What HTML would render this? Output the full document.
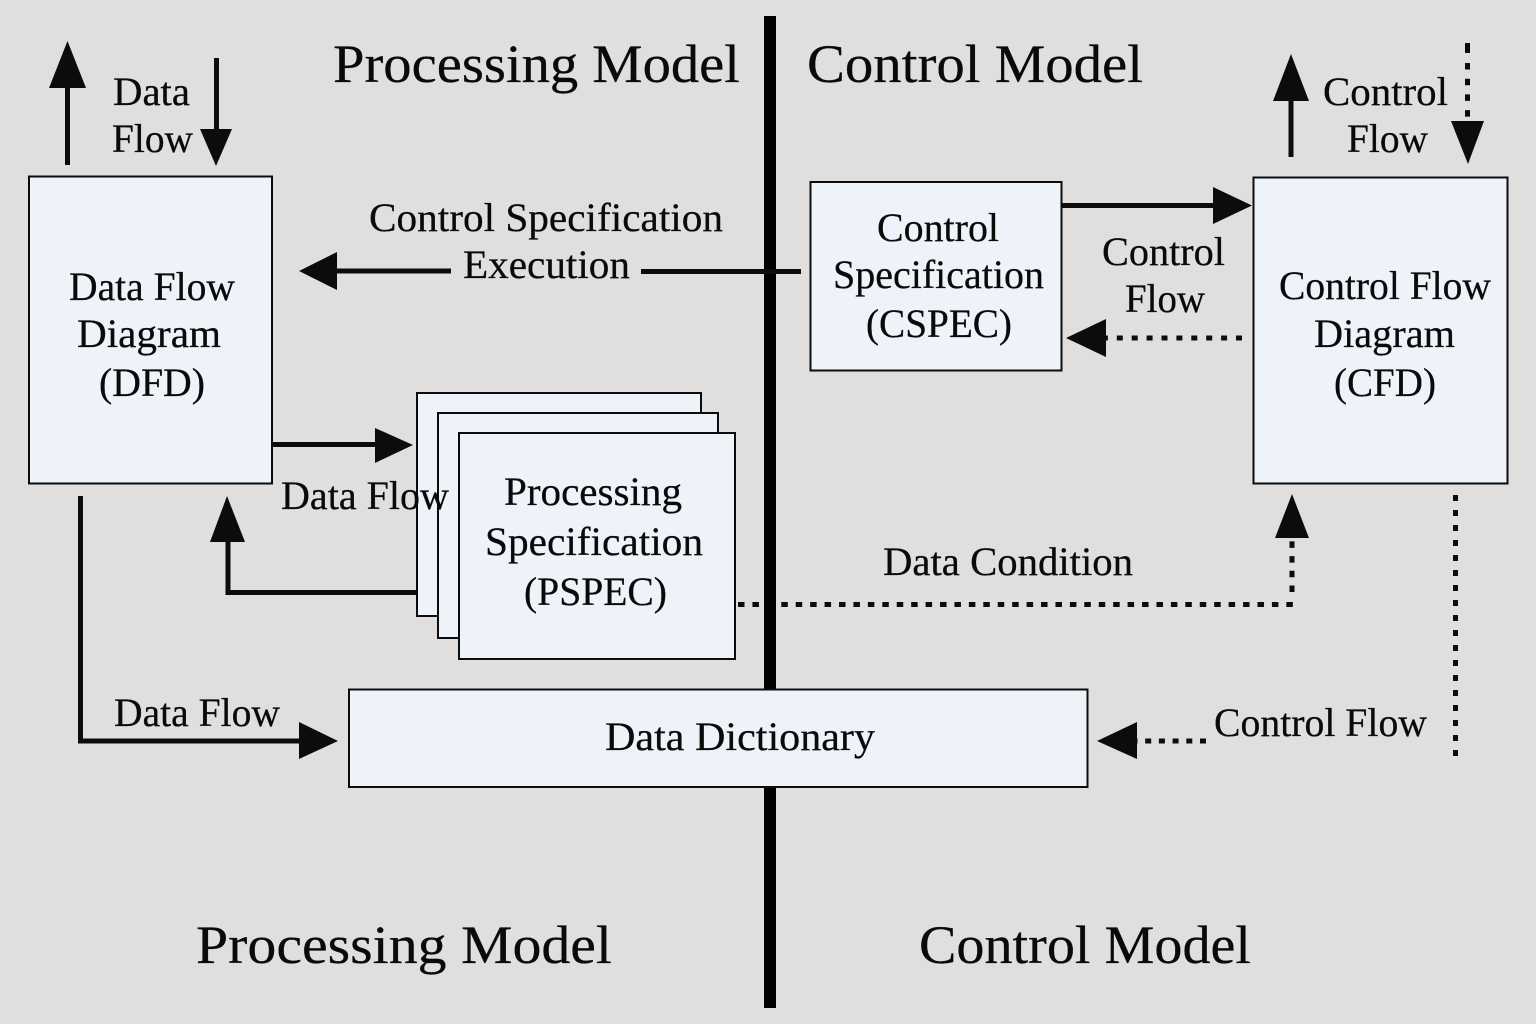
<!DOCTYPE html>
<html><head><meta charset="utf-8"><style>
html,body{margin:0;padding:0;background:#e0dfdd}
svg{display:block}
text{font-family:"Liberation Serif",serif;fill:#0a0a0a;font-size:40px;stroke:#0a0a0a;stroke-width:.25px}
.h{font-size:54px}
.b{fill:#eef3f9;stroke:#0c0c0c;stroke-width:2}
.l{fill:none;stroke:#0c0c0c;stroke-width:5}
.d{fill:none;stroke:#0c0c0c;stroke-width:5}
.a{fill:#0c0c0c}
</style></head><body>
<svg width="1536" height="1024" viewBox="0 0 1536 1024" xmlns="http://www.w3.org/2000/svg">
<rect width="1536" height="1024" fill="#e0dfdd"/>

<path class="d" stroke-dasharray="6.5 7.93" d="M738 604.500H1295"/>
<rect x="764" y="16" width="12" height="992" fill="#000"/>
<path class="l" d="M641 271.500H801"/>

<rect class="b" x="29" y="176.500" width="243" height="307"/>
<rect class="b" x="1253.500" y="177.500" width="254" height="306"/>
<rect class="b" x="810.500" y="182" width="251" height="188.500"/>
<rect class="b" x="417" y="393" width="284" height="223"/>
<rect class="b" x="438" y="413" width="280" height="225"/>
<rect class="b" x="459" y="433" width="276" height="226"/>
<rect class="b" x="349" y="689.500" width="738.500" height="97.500"/>

<path class="l" d="M67.500 165V85"/><path class="a" d="M67.500 41L86 88H49z"/>
<path class="l" d="M216.500 58V132"/><path class="a" d="M216 166L232 129H200z"/>
<path class="l" d="M1291 157V98"/><path class="a" d="M1291 54L1309 101H1273z"/>
<path class="d" d="M1467.500 43V53"/>
<path class="d" stroke-dasharray="6.500 9.200" d="M1467.500 63V117"/><path class="a" d="M1468 164L1484 121H1451z"/>
<path class="l" d="M1062 205.500H1215"/><path class="a" d="M1252 205.500L1213 187V224z"/>
<path class="d" stroke-width="5.500" stroke-dasharray="6 8.900" d="M1242 338H1104"/><path class="a" d="M1066 338L1106 319V357z"/>
<path class="l" d="M451 271H335"/><path class="a" d="M299 271L337 252V290z"/>
<path class="l" d="M272 444.500H378"/><path class="a" d="M413 445L375 428V463z"/>
<path class="l" d="M417 592.500H228V530"/><path class="a" d="M227 496L245 542H210z"/>
<path class="l" d="M80.500 496V741H303"/><path class="a" d="M338 741L299 722V759z"/>
<path class="d" stroke-dasharray="6.500 8.200" d="M1292 592V535"/><path class="a" d="M1292 494L1309 538H1275z"/>
<path class="d" stroke-dasharray="6 7.700" d="M1206 741H1130"/><path class="a" d="M1097 741L1137 722V759z"/>
<path class="d" stroke-dasharray="6 9" d="M1455.500 495V756"/>

<text class="h" x="333" y="82" textLength="407" lengthAdjust="spacingAndGlyphs">Processing Model</text>
<text class="h" x="807" y="82" textLength="336" lengthAdjust="spacingAndGlyphs">Control Model</text>
<text class="h" x="196" y="963" textLength="416" lengthAdjust="spacingAndGlyphs">Processing Model</text>
<text class="h" x="919" y="963" textLength="332" lengthAdjust="spacingAndGlyphs">Control Model</text>

<text x="113" y="105" textLength="77" lengthAdjust="spacingAndGlyphs">Data</text>
<text x="112" y="152" textLength="81" lengthAdjust="spacingAndGlyphs">Flow</text>
<text x="1323" y="105" textLength="125" lengthAdjust="spacingAndGlyphs">Control</text>
<text x="1347" y="152" textLength="81" lengthAdjust="spacingAndGlyphs">Flow</text>
<text x="369" y="231" textLength="354" lengthAdjust="spacingAndGlyphs">Control Specification</text>
<text x="463" y="278" textLength="167" lengthAdjust="spacingAndGlyphs">Execution</text>
<text x="877" y="241" textLength="122" lengthAdjust="spacingAndGlyphs">Control</text>
<text x="833" y="288" textLength="211" lengthAdjust="spacingAndGlyphs">Specification</text>
<text x="866" y="337" textLength="146" lengthAdjust="spacingAndGlyphs">(CSPEC)</text>
<text x="1102" y="265" textLength="123" lengthAdjust="spacingAndGlyphs">Control</text>
<text x="1125" y="312" textLength="80" lengthAdjust="spacingAndGlyphs">Flow</text>
<text x="69" y="300" textLength="166" lengthAdjust="spacingAndGlyphs">Data Flow</text>
<text x="77" y="347" textLength="144" lengthAdjust="spacingAndGlyphs">Diagram</text>
<text x="99" y="396" textLength="106" lengthAdjust="spacingAndGlyphs">(DFD)</text>
<text x="1279" y="299" textLength="212" lengthAdjust="spacingAndGlyphs">Control Flow</text>
<text x="1314" y="347" textLength="141" lengthAdjust="spacingAndGlyphs">Diagram</text>
<text x="1334" y="396" textLength="102" lengthAdjust="spacingAndGlyphs">(CFD)</text>
<text x="281" y="509" textLength="168" lengthAdjust="spacingAndGlyphs">Data Flow</text>
<text x="504" y="505" textLength="178" lengthAdjust="spacingAndGlyphs">Processing</text>
<text x="485" y="555" textLength="218" lengthAdjust="spacingAndGlyphs">Specification</text>
<text x="524" y="605" textLength="143" lengthAdjust="spacingAndGlyphs">(PSPEC)</text>
<text x="883" y="575" textLength="250" lengthAdjust="spacingAndGlyphs">Data Condition</text>
<text x="114" y="726" textLength="166" lengthAdjust="spacingAndGlyphs">Data Flow</text>
<text x="605" y="750" textLength="270" lengthAdjust="spacingAndGlyphs">Data Dictionary</text>
<text x="1214" y="736" textLength="213" lengthAdjust="spacingAndGlyphs">Control Flow</text>
</svg>
</body></html>
